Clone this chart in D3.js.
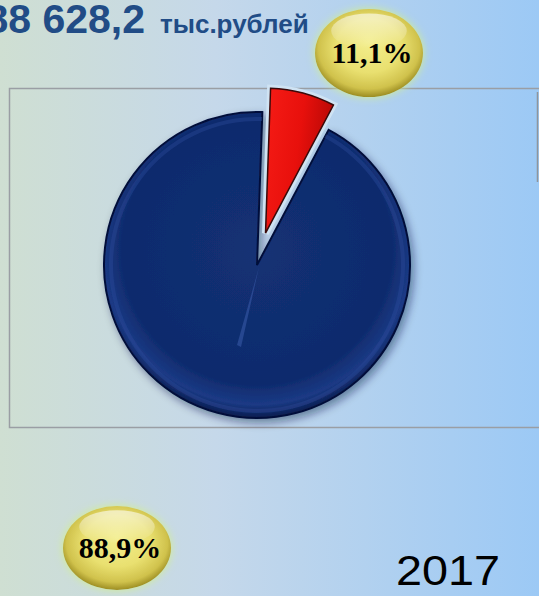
<!DOCTYPE html>
<html>
<head>
<meta charset="utf-8">
<script src="https://cdn.jsdelivr.net/npm/d3@7/dist/d3.min.js"></script>
<style>
  body { margin: 0; overflow: hidden; }
  svg { display: block; }
</style>
</head>
<body>
<div id="chart"></div>
<script>
// pie shares as drawn (red slice, blue slice)
const sliceKeys = ["small", "large"];
const sliceShares = [7.2, 92.8];
// bubble labels
const labelTexts = ["11,1%", "88,9%"];
// header / footer texts
const totalValue = "88 628,2";
const totalUnit = "тыс.рублей";
const yearLabel = "2017";

const width = 539, height = 596;

const svg = d3.select("#chart").append("svg")
  .attr("width", width)
  .attr("height", height);

const defs = svg.append("defs");

// background gradient: greenish grey on the left to light blue on the right
const bg = defs.append("linearGradient").attr("id", "bg")
  .attr("x1", "0").attr("y1", "0").attr("x2", "1").attr("y2", "0");
bg.append("stop").attr("offset", "0%").attr("stop-color", "#cfdfd2");
bg.append("stop").attr("offset", "40%").attr("stop-color", "#c5d8ea");
bg.append("stop").attr("offset", "100%").attr("stop-color", "#9cc9f5");

svg.append("rect").attr("width", width).attr("height", height).attr("fill", "url(#bg)");

// chart frame
svg.append("rect")
  .attr("x", 9.5).attr("y", 88.5)
  .attr("width", 540).attr("height", 339)
  .attr("fill", "none")
  .attr("stroke", "#9a9ea4")
  .attr("stroke-width", 1.5);
svg.append("line")
  .attr("x1", 537.5).attr("x2", 537.5)
  .attr("y1", 92).attr("y2", 182)
  .attr("stroke", "#8f959c").attr("stroke-width", 1.5);

// gradients for the slices
const blueGrad = defs.append("radialGradient").attr("id", "blueGrad")
  .attr("cx", "50%").attr("cy", "45%").attr("r", "55%");
blueGrad.append("stop").attr("offset", "0%").attr("stop-color", "#133174");
blueGrad.append("stop").attr("offset", "80%").attr("stop-color", "#0f2b6d");
blueGrad.append("stop").attr("offset", "92%").attr("stop-color", "#1b3a85");
blueGrad.append("stop").attr("offset", "100%").attr("stop-color", "#0a1c4e");

const redGrad = defs.append("linearGradient").attr("id", "redGrad")
  .attr("x1", "0").attr("y1", "0").attr("x2", "1").attr("y2", "0.3");
redGrad.append("stop").attr("offset", "0%").attr("stop-color", "#f61c16");
redGrad.append("stop").attr("offset", "55%").attr("stop-color", "#e8100c");
redGrad.append("stop").attr("offset", "100%").attr("stop-color", "#b50806");

const shadow = defs.append("filter").attr("id", "shadow")
  .attr("x", "-20%").attr("y", "-20%").attr("width", "140%").attr("height", "140%");
shadow.append("feDropShadow")
  .attr("dx", 3).attr("dy", 4).attr("stdDeviation", 4)
  .attr("flood-color", "#0a1a40").attr("flood-opacity", 0.45);

// pie
const cx = 257, cy = 265;
const outerR = 153, explodedR = 145, explodeOffset = 33;
const rad = d => d * Math.PI / 180;

const pie = d3.pie().sort(null).value(d => d)
  .startAngle(rad(2)).endAngle(rad(362));
const arcs = pie(sliceShares);

const colorScale = d3.scaleOrdinal().domain(sliceKeys).range(["url(#redGrad)", "url(#blueGrad)"]);

const gPie = svg.append("g").attr("transform", `translate(${cx},${cy})`);

// large slice
const bigArc = d3.arc().innerRadius(0).outerRadius(outerR);
gPie.append("path")
  .attr("d", bigArc(arcs[1]))
  .attr("fill", colorScale(sliceKeys[1]))
  .attr("stroke", "#06113a")
  .attr("stroke-width", 2)
  .attr("filter", "url(#shadow)");
// soft bevel edge
gPie.append("path")
  .attr("d", d3.arc().innerRadius(outerR - 9).outerRadius(outerR - 5)(arcs[1]))
  .attr("fill", "#2c4c9c").attr("opacity", 0.4);

// light highlight along the edge of the gap
gPie.append("path")
  .attr("d", "M2,2 L-16,82 L-20,80 Z")
  .attr("fill", "#3c5cab").attr("opacity", 0.55);

// exploded small slice
const midA = (arcs[0].startAngle + arcs[0].endAngle) / 2;
const ox = Math.sin(midA) * explodeOffset, oy = -Math.cos(midA) * explodeOffset;
const smallArc = d3.arc().innerRadius(0).outerRadius(explodedR);
const gSmall = gPie.append("g").attr("transform", `translate(${ox},${oy})`);
gSmall.append("path")
  .attr("d", smallArc(arcs[0]))
  .attr("fill", "none")
  .attr("stroke", "#cfe3f3")
  .attr("stroke-width", 7)
  .attr("stroke-linejoin", "miter");
gSmall.append("path")
  .attr("d", smallArc(arcs[0]))
  .attr("fill", colorScale(sliceKeys[0]))
  .attr("stroke", "#3a0a0a")
  .attr("stroke-width", 1.5);

// bubbles
const glow = defs.append("filter").attr("id", "glow")
  .attr("x", "-30%").attr("y", "-30%").attr("width", "160%").attr("height", "160%");
glow.append("feGaussianBlur").attr("in", "SourceAlpha").attr("stdDeviation", 4).attr("result", "b");
glow.append("feFlood").attr("flood-color", "#d3f08a").attr("flood-opacity", 0.95);
glow.append("feComposite").attr("in2", "b").attr("operator", "in").attr("result", "g");
const merge = glow.append("feMerge");
merge.append("feMergeNode").attr("in", "g");
merge.append("feMergeNode").attr("in", "SourceGraphic");

const ballGrad = defs.append("radialGradient").attr("id", "ball")
  .attr("cx", "50%").attr("cy", "45%").attr("r", "55%")
  .attr("fx", "50%").attr("fy", "38%");
ballGrad.append("stop").attr("offset", "0%").attr("stop-color", "#f3ee8c");
ballGrad.append("stop").attr("offset", "55%").attr("stop-color", "#e9e070");
ballGrad.append("stop").attr("offset", "85%").attr("stop-color", "#d0c24c");
ballGrad.append("stop").attr("offset", "100%").attr("stop-color", "#9c8d22");

const hiGrad = defs.append("linearGradient").attr("id", "hi")
  .attr("x1", "0").attr("y1", "0").attr("x2", "0").attr("y2", "1");
hiGrad.append("stop").attr("offset", "0%").attr("stop-color", "#ffffff").attr("stop-opacity", 0.6);
hiGrad.append("stop").attr("offset", "100%").attr("stop-color", "#ffffff").attr("stop-opacity", 0);

const bubblePos = [
  { x: 369, y: 53, rx: 54, ry: 44 },
  { x: 117, y: 548, rx: 54, ry: 42 }
];

labelTexts.forEach((t, i) => {
  const p = bubblePos[i];
  const g = svg.append("g").attr("transform", `translate(${p.x},${p.y})`);
  g.append("ellipse")
    .attr("rx", p.rx).attr("ry", p.ry)
    .attr("fill", "url(#ball)")
    .attr("filter", "url(#glow)");
  g.append("ellipse")
    .attr("cy", -p.ry * 0.5)
    .attr("rx", p.rx * 0.7).attr("ry", p.ry * 0.4)
    .attr("fill", "url(#hi)");
  g.append("text")
    .attr("text-anchor", "middle")
    .attr("x", 3)
    .attr("y", 10)
    .attr("font-family", "'Liberation Serif', 'Times New Roman', serif")
    .attr("font-weight", "bold")
    .attr("font-size", 30)
    .attr("fill", "#000")
    .text(t);
});

// title
svg.append("text")
  .attr("x", 145).attr("y", 33)
  .attr("text-anchor", "end")
  .attr("font-family", "'Liberation Sans', Arial, sans-serif")
  .attr("font-weight", "bold")
  .attr("font-size", 41)
  .attr("fill", "#214c86")
  .text(totalValue);
svg.append("text")
  .attr("x", 160).attr("y", 33)
  .attr("font-family", "'Liberation Sans', Arial, sans-serif")
  .attr("font-weight", "bold")
  .attr("font-size", 26)
  .attr("fill", "#214c86")
  .text(totalUnit);

// year
svg.append("text")
  .attr("x", 396).attr("y", 585)
  .attr("font-family", "'Liberation Sans', Arial, sans-serif")
  .attr("font-size", 42)
  .attr("textLength", 104)
  .attr("lengthAdjust", "spacingAndGlyphs")
  .attr("fill", "#000")
  .text(yearLabel);
</script>
</body>
</html>
